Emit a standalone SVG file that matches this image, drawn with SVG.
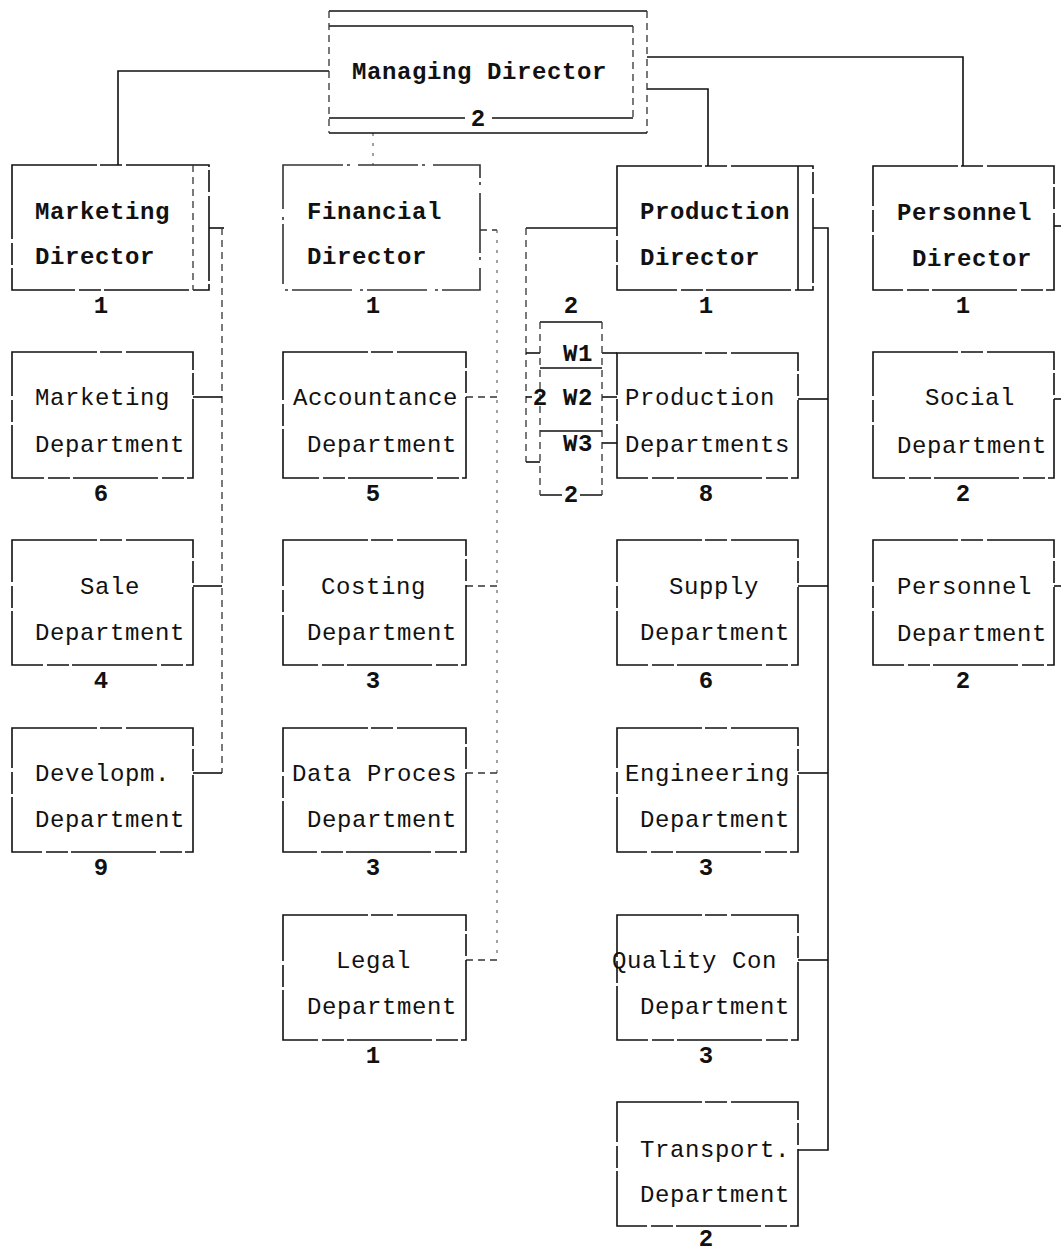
<svg xmlns="http://www.w3.org/2000/svg" width="1061" height="1253" viewBox="0 0 1061 1253">
<style>
.bg{fill:#fff}
.box{fill:none;stroke:#111;stroke-width:1.6;stroke-dasharray:85 3 22 4}
.ln{fill:none;stroke:#111;stroke-width:1.6}
.dl{fill:none;stroke:#333;stroke-width:1.3;stroke-dasharray:7 5}
.fd{fill:none;stroke:#555;stroke-width:1.1;stroke-dasharray:3 7}
.t{font-family:"Liberation Mono","DejaVu Sans Mono",monospace;font-size:24px;letter-spacing:0.6px;fill:#111}
.b{font-weight:bold}
.n{font-family:"Liberation Mono","DejaVu Sans Mono",monospace;font-size:24px;font-weight:bold;fill:#111;text-anchor:middle}
</style>
<rect class="bg" x="0" y="0" width="1061" height="1253"/>

<g id="connectors">
  <path class="ln" d="M329,71 H118 V165"/>
  <path class="ln" d="M647,57 H963 V166"/>
  <path class="ln" d="M647,89 H708 V166"/>
  <path class="fd" d="M373,133 V165"/>
  <path class="ln" d="M209,228 H224"/>
  <path class="dl" d="M222,228 V773"/>
  <path class="ln" d="M193,397 H222"/>
  <path class="ln" d="M193,586 H222"/>
  <path class="ln" d="M193,773 H222"/>
  <path class="dl" d="M480,230 H497"/>
  <path class="fd" d="M497,230 V960"/>
  <path class="dl" d="M466,397 H497"/>
  <path class="dl" d="M466,586 H497"/>
  <path class="dl" d="M466,773 H497"/>
  <path class="dl" d="M466,960 H497"/>
  <path class="ln" d="M813,228 H828 V1150 H798"/>
  <path class="ln" d="M798,399 H828"/>
  <path class="ln" d="M798,586 H828"/>
  <path class="ln" d="M798,773 H828"/>
  <path class="ln" d="M798,960 H828"/>
  <path class="ln" d="M617,228 H526"/>
  <path class="dl" d="M526,228 V462"/>
  <path class="ln" d="M526,462 H540"/>
  <path class="ln" d="M526,353 H540"/>
  <path class="ln" d="M526,397 H532"/>
  <path class="ln" d="M602,353 H617"/>
  <path class="ln" d="M602,397 H617"/>
  <path class="ln" d="M602,443 H617"/>
  <path class="ln" d="M1054,226 H1061"/>
  <path class="ln" d="M1054,399 H1061"/>
  <path class="ln" d="M1054,586 H1061"/>
</g>

<g id="managing-director">
  <path class="ln" d="M329,11 H647"/>
  <path class="dl" d="M647,11 V133"/>
  <path class="ln" d="M329,133 H647"/>
  <path class="ln" d="M329,26 H633"/>
  <path class="dl" d="M329,11 V133"/>
  <path class="dl" d="M633,26 V118"/>
  <path class="ln" d="M329,118 H465 M492,118 H633"/>
  <text class="t b" x="352" y="79">Managing Director</text>
  <text class="n" x="478" y="126">2</text>
</g>

<g id="marketing-director">
  <rect class="box" x="12" y="165" width="197" height="125"/>
  <path class="dl" d="M193,165 V290"/>
  <text class="t b" x="35" y="219">Marketing</text>
  <text class="t b" x="35" y="264">Director</text>
  <text class="n" x="101" y="313">1</text>
</g>

<g id="financial-director">
  <rect class="box" x="283" y="165" width="197" height="125" style="stroke-dasharray:60 4 3 8;stroke:#333"/>
  <text class="t b" x="307" y="219">Financial</text>
  <text class="t b" x="307" y="264">Director</text>
  <text class="n" x="373" y="313">1</text>
</g>

<g id="production-director">
  <rect class="box" x="617" y="166" width="196" height="124"/>
  <path class="ln" d="M798,166 V290"/>
  <text class="t b" x="640" y="219">Production</text>
  <text class="t b" x="640" y="265">Director</text>
  <text class="n" x="706" y="313">1</text>
</g>

<g id="personnel-director">
  <rect class="box" x="873" y="166" width="181" height="124"/>
  <text class="t b" x="897" y="220">Personnel</text>
  <text class="t b" x="912" y="266">Director</text>
  <text class="n" x="963" y="313">1</text>
</g>

<g id="marketing-department">
  <rect class="box" x="12" y="352" width="181" height="126"/>
  <text class="t" x="35" y="405">Marketing</text>
  <text class="t" x="35" y="452">Department</text>
  <text class="n" x="101" y="501">6</text>
</g>

<g id="sale-department">
  <rect class="box" x="12" y="540" width="181" height="125"/>
  <text class="t" x="80" y="594">Sale</text>
  <text class="t" x="35" y="640">Department</text>
  <text class="n" x="101" y="688">4</text>
</g>

<g id="development-department">
  <rect class="box" x="12" y="728" width="181" height="124"/>
  <text class="t" x="35" y="781">Developm.</text>
  <text class="t" x="35" y="827">Department</text>
  <text class="n" x="101" y="875">9</text>
</g>

<g id="accountance-department">
  <rect class="box" x="283" y="352" width="183" height="126"/>
  <text class="t" x="293" y="405">Accountance</text>
  <text class="t" x="307" y="452">Department</text>
  <text class="n" x="373" y="501">5</text>
</g>

<g id="costing-department">
  <rect class="box" x="283" y="540" width="183" height="125"/>
  <text class="t" x="321" y="594">Costing</text>
  <text class="t" x="307" y="640">Department</text>
  <text class="n" x="373" y="688">3</text>
</g>

<g id="data-processing-department">
  <rect class="box" x="283" y="728" width="183" height="124"/>
  <text class="t" x="292" y="781">Data Proces</text>
  <text class="t" x="307" y="827">Department</text>
  <text class="n" x="373" y="875">3</text>
</g>

<g id="legal-department">
  <rect class="box" x="283" y="915" width="183" height="125"/>
  <text class="t" x="336" y="968">Legal</text>
  <text class="t" x="307" y="1014">Department</text>
  <text class="n" x="373" y="1063">1</text>
</g>

<g id="workshops">
  <path class="ln" d="M540,322 H602 M540,368 H602 M540,431 H602 M540,495 H562 M580,495 H602"/>
  <path class="dl" d="M540,322 V495 M602,322 V495"/>
  <text class="n" x="571" y="313">2</text>
  <text class="t b" x="563" y="361">W1</text>
  <text class="t b" x="563" y="405">W2</text>
  <text class="t b" x="563" y="451">W3</text>
  <text class="n" x="540" y="405">2</text>
  <text class="n" x="571" y="502">2</text>
</g>

<g id="production-departments">
  <rect class="box" x="617" y="353" width="181" height="125"/>
  <text class="t" x="625" y="405">Production</text>
  <text class="t" x="625" y="452">Departments</text>
  <text class="n" x="706" y="501">8</text>
</g>

<g id="supply-department">
  <rect class="box" x="617" y="540" width="181" height="125"/>
  <text class="t" x="669" y="594">Supply</text>
  <text class="t" x="640" y="640">Department</text>
  <text class="n" x="706" y="688">6</text>
</g>

<g id="engineering-department">
  <rect class="box" x="617" y="728" width="181" height="124"/>
  <text class="t" x="625" y="781">Engineering</text>
  <text class="t" x="640" y="827">Department</text>
  <text class="n" x="706" y="875">3</text>
</g>

<g id="quality-control-department">
  <rect class="box" x="617" y="915" width="181" height="125"/>
  <text class="t" x="612" y="968">Quality Con</text>
  <text class="t" x="640" y="1014">Department</text>
  <text class="n" x="706" y="1063">3</text>
</g>

<g id="transport-department">
  <rect class="box" x="617" y="1102" width="181" height="124"/>
  <text class="t" x="640" y="1157">Transport.</text>
  <text class="t" x="640" y="1202">Department</text>
  <text class="n" x="706" y="1246">2</text>
</g>

<g id="social-department">
  <rect class="box" x="873" y="352" width="181" height="126"/>
  <text class="t" x="925" y="405">Social</text>
  <text class="t" x="897" y="453">Department</text>
  <text class="n" x="963" y="501">2</text>
</g>

<g id="personnel-department">
  <rect class="box" x="873" y="540" width="181" height="125"/>
  <text class="t" x="897" y="594">Personnel</text>
  <text class="t" x="897" y="641">Department</text>
  <text class="n" x="963" y="688">2</text>
</g>
</svg>
